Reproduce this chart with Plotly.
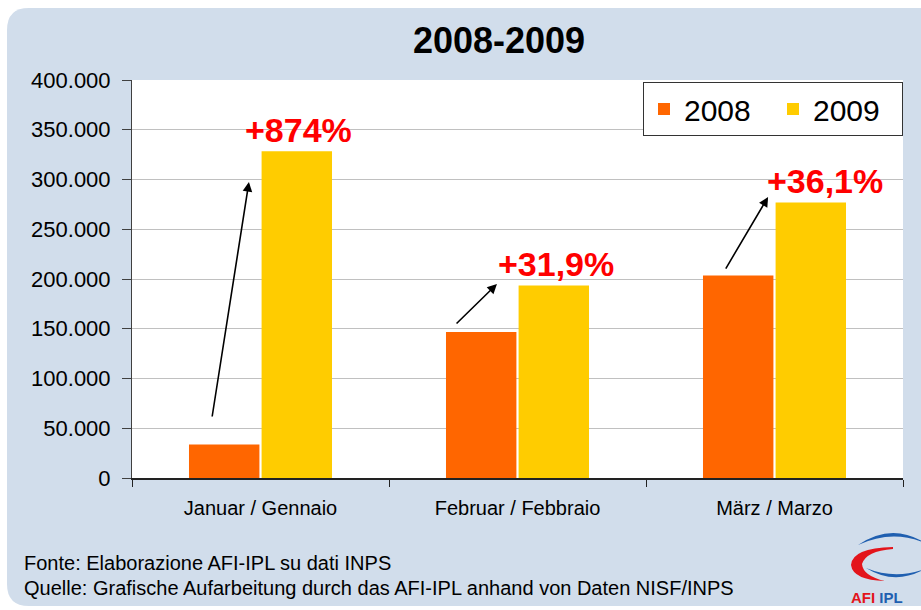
import plotly.graph_objects as go

# ---- data ----
categories = ["Januar / Gennaio", "Februar / Febbraio", "März / Marzo"]
values_2008 = [33700, 146700, 203500]
values_2009 = [328500, 193500, 277000]
series_names = ["2008", "2009"]
pct_labels = ["+874%", "+31,9%", "+36,1%"]
tick_values = [0, 50000, 100000, 150000, 200000, 250000, 300000, 350000, 400000]
title_text = "2008-2009"
source_lines = [
    "Fonte: Elaborazione AFI-IPL su dati INPS",
    "Quelle: Grafische Aufarbeitung durch das AFI-IPL anhand von Daten NISF/INPS",
]

# ---- layout geometry (pixels) ----
W, H = 921, 610
L, R, T, B = 132, 18, 80, 132
PW, PH = W - L - R, H - T - B
FONT = "Liberation Sans, Arial, sans-serif"


def px(x):
    return (x - L) / PW


def py(y):
    return (H - B - y) / PH


def path(points):
    out = []
    for cmd, *pts in points:
        coords = " ".join(f"{px(a):.5f},{py(b):.5f}" for a, b in zip(pts[0::2], pts[1::2]))
        out.append(f"{cmd}{coords}")
    return " ".join(out) + " Z"


fig = go.Figure()
fig.add_trace(go.Bar(x=categories, y=values_2008, name=series_names[0],
                     marker=dict(color="#ff6600", line=dict(width=0))))
fig.add_trace(go.Bar(x=categories, y=values_2009, name=series_names[1],
                     marker=dict(color="#ffcc00", line=dict(width=0))))

panel = path([
    ("M", 7, 30), ("Q", 7, 8, 29, 8), ("L", 940, 8), ("L", 940, 606),
    ("L", 29, 606), ("Q", 7, 606, 7, 584),
])
shapes = [
    dict(type="path", xref="paper", yref="paper", path=panel, fillcolor="#d1ddeb",
         line=dict(width=0), layer="below"),
    dict(type="rect", xref="paper", yref="paper", x0=0, x1=1, y0=0, y1=1,
         fillcolor="white", line=dict(width=0), layer="below"),
    # logo: red crescent
    dict(type="path", xref="paper", yref="paper",
         path=path([("M", 893, 547), ("Q", 852, 548, 851, 565), ("Q", 853, 580, 885, 581),
                    ("Q", 863, 576, 862, 564), ("Q", 866, 551, 893, 549)]),
         fillcolor="#e3141b", line=dict(width=0)),
    # logo: blue arcs
    dict(type="path", xref="paper", yref="paper",
         path=path([("M", 858, 545), ("Q", 892, 522, 925, 543), ("Q", 892, 529, 858, 545)]),
         fillcolor="#1f5fb0", line=dict(width=0)),
    dict(type="path", xref="paper", yref="paper",
         path=path([("M", 866, 568), ("Q", 895, 586, 925, 569), ("Q", 895, 580, 866, 568)]),
         fillcolor="#1f5fb0", line=dict(width=0)),
]

annotations = []
# percentage labels
label_pos = [(0.146, 350000), (1.150, 215500), (2.196, 299000)]
for (lx, ly), txt in zip(label_pos, pct_labels):
    annotations.append(dict(x=lx, y=ly, xref="x", yref="y", text=txt, showarrow=False,
                            font=dict(family=FONT, size=34, color="#ff0000", weight="bold"),
                            xanchor="center", yanchor="middle"))
# arrows
arrow_pos = [((-0.189, 60300), (-0.045, 297500)),
             ((0.757, 153800), (0.920, 195000)),
             ((1.807, 209000), (1.975, 282400))]
for (tx, ty), (hx, hy) in arrow_pos:
    annotations.append(dict(x=hx, y=hy, ax=tx, ay=ty, xref="x", yref="y", axref="x", ayref="y",
                            text="", showarrow=True, arrowhead=2, arrowsize=1.2,
                            arrowwidth=1.6, arrowcolor="black"))
# source lines
for i, line in enumerate(source_lines):
    annotations.append(dict(x=px(22), y=py(563 + 25 * i), xref="paper", yref="paper",
                            text=line, showarrow=False, xanchor="left", yanchor="middle",
                            font=dict(family=FONT, size=20, color="black")))
# logo text
annotations.append(dict(x=px(849), y=py(597), xref="paper", yref="paper",
                        text="<b><span style='color:#e3141b'>AFI</span> "
                             "<span style='color:#1f5fb0'>IPL</span></b>",
                        showarrow=False, xanchor="left", yanchor="middle",
                        font=dict(family=FONT, size=15)))

fig.update_layout(
    width=W, height=H,
    margin=dict(l=L, r=R, t=T, b=B, pad=0),
    paper_bgcolor="white", plot_bgcolor="white",
    separators=",.",
    font=dict(family=FONT, color="black"),
    title=dict(text=f"<b>{title_text}</b>", x=px(499), xref="paper", xanchor="center",
               y=1 - 40 / H, yref="container", yanchor="middle",
               font=dict(family=FONT, size=36, color="black")),
    barmode="group", bargap=0.435, bargroupgap=0.03,
    showlegend=True,
    legend=dict(orientation="h", x=1, xanchor="right", y=py(82), yanchor="top",
                bgcolor="white", bordercolor="#333333", borderwidth=1,
                font=dict(family=FONT, size=30, color="black"),
                entrywidth=84, entrywidthmode="pixels"),
    shapes=shapes,
    annotations=annotations,
    xaxis=dict(showline=True, linecolor="#222222", linewidth=1.5, ticks="outside",
               ticklen=7, tickcolor="#222222", tickson="boundaries",
               tickfont=dict(family=FONT, size=20, color="black"),
               showgrid=False, range=[-0.5, 2.5], fixedrange=True,
               ticklabelstandoff=11),
    yaxis=dict(range=[0, 400000], tickvals=tick_values, tickformat=",.0f",
               showline=True, linecolor="#404040", linewidth=1, ticks="outside",
               ticklen=9, tickcolor="#404040",
               tickfont=dict(family=FONT, size=22, color="black"),
               showgrid=True, gridcolor="#c0c0c0", gridwidth=1, zeroline=False,
               ticklabelstandoff=7),
)

fig.write_html("out.html", config={"displayModeBar": False},
               post_script="document.body.style.margin='0';")
